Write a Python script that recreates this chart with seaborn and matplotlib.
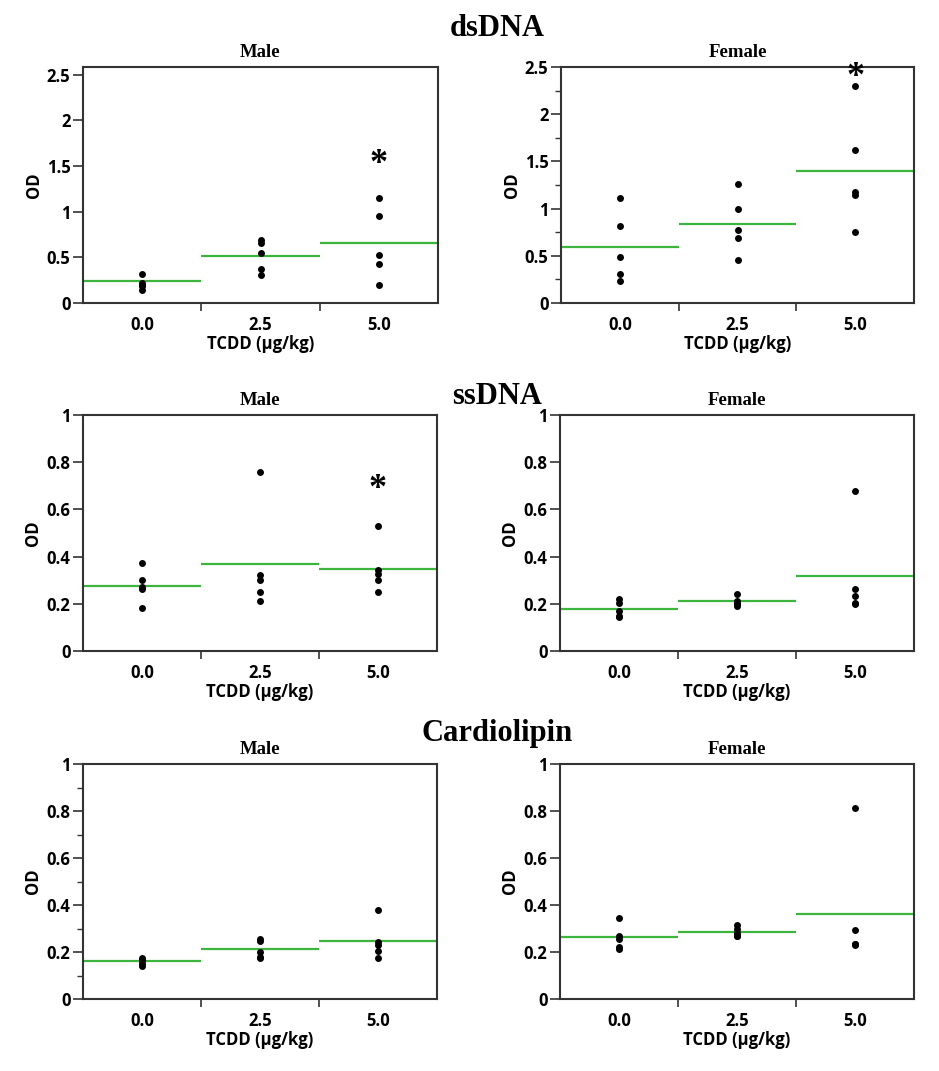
import numpy as np
import pandas as pd
import matplotlib
matplotlib.use("Agg")
import matplotlib.pyplot as plt
import seaborn as sns
from matplotlib.ticker import FuncFormatter, MultipleLocator
from matplotlib.transforms import offset_copy

sns.set_theme(style="white")
plt.rcParams['font.family'] = ['Open Sans', 'DejaVu Sans']
plt.rcParams['font.weight'] = 'bold'
plt.rcParams['axes.labelweight'] = 'bold'

doses = ["0.0", "2.5", "5.0"]

# OD values per panel, per dose group
ds_male = [[0.32, 0.22, 0.20, 0.19, 0.14],
           [0.686, 0.657, 0.547, 0.376, 0.307],
           [1.15, 0.949, 0.526, 0.423, 0.193]]
ds_female = [[1.11, 0.82, 0.489, 0.309, 0.238],
             [1.259, 0.996, 0.777, 0.688, 0.457],
             [2.30, 1.617, 1.177, 1.142, 0.748]]
ss_male = [[0.371, 0.301, 0.27, 0.261, 0.181],
           [0.76, 0.322, 0.299, 0.251, 0.212],
           [0.531, 0.343, 0.325, 0.299, 0.251]]
ss_female = [[0.22, 0.205, 0.17, 0.15, 0.145],
             [0.243, 0.213, 0.205, 0.198, 0.192],
             [0.68, 0.261, 0.233, 0.205, 0.20]]
cl_male = [[0.173, 0.165, 0.16, 0.15, 0.142],
           [0.255, 0.245, 0.201, 0.18, 0.174],
           [0.38, 0.244, 0.231, 0.203, 0.173]]
cl_female = [[0.346, 0.27, 0.256, 0.22, 0.212],
             [0.313, 0.297, 0.279, 0.27, 0.266],
             [0.813, 0.293, 0.234, 0.232, 0.23]]

# group means (green lines)
ds_male_mean = [0.237, 0.515, 0.653]
ds_female_mean = [0.592, 0.837, 1.40]
ss_male_mean = [0.277, 0.370, 0.349]
ss_female_mean = [0.179, 0.210, 0.316]
cl_male_mean = [0.160, 0.211, 0.246]
cl_female_mean = [0.262, 0.286, 0.363]

# significance markers: (dose index, y position)
ds_male_star = [(2, 1.58)]
ds_female_star = [(2, 2.45)]
ss_male_star = [(2, 0.71)]

row_titles = ["dsDNA", "ssDNA", "Cardiolipin"]
col_titles = ["Male", "Female"]

panels = [
    (ds_male, ds_male_mean, ds_male_star, 2.584, [0, 0.5, 1, 1.5, 2, 2.5], None),
    (ds_female, ds_female_mean, ds_female_star, 2.5, [0, 0.5, 1, 1.5, 2, 2.5], 0.25),
    (ss_male, ss_male_mean, ss_male_star, 1.0, [0, 0.2, 0.4, 0.6, 0.8, 1.0], None),
    (ss_female, ss_female_mean, [], 1.0, [0, 0.2, 0.4, 0.6, 0.8, 1.0], None),
    (cl_male, cl_male_mean, [], 1.0, [0, 0.2, 0.4, 0.6, 0.8, 1.0], 0.1),
    (cl_female, cl_female_mean, [], 1.0, [0, 0.2, 0.4, 0.6, 0.8, 1.0], None),
]

W, H = 939, 1071
fig = plt.figure(figsize=(W / 100, H / 100), dpi=100)

# axes boxes in pixels (left, top, right, bottom)
boxes = [
    (83, 67, 438, 303), (561, 67, 914, 303),
    (83, 415, 437, 651), (560, 415, 914, 651),
    (83, 764, 437, 999), (560, 764, 914, 999),
]
title_y = [29, 396, 733]

spine_col = "#333333"
green = "#3db53d"

for i, (data, means, stars, ymax, yticks, minor) in enumerate(panels):
    l, t, r, b = boxes[i]
    ax = fig.add_axes([l / W, 1 - b / H, (r - l) / W, (b - t) / H])
    df = pd.DataFrame({
        "dose": [doses[g] for g in range(3) for _ in data[g]],
        "OD": [v for g in range(3) for v in data[g]],
    })
    sns.stripplot(data=df, x="dose", y="OD", order=doses, jitter=False,
                  color="black", size=5, linewidth=0, ax=ax, zorder=3)
    for g, m in enumerate(means):
        ax.hlines(m, g - 0.5, g + 0.5, color=green, lw=1.6, zorder=2)
    star_tr = offset_copy(ax.transData, fig=fig, x=0, y=-6, units="dots")
    for (g, yv) in stars:
        ax.text(g, yv, "*", ha="center", va="center", fontsize=26,
                family="Liberation Serif", fontweight="bold", color="black",
                zorder=4, transform=star_tr)
    ax.set_xlim(-0.5, 2.5)
    ax.set_ylim(0, ymax)
    ax.set_yticks(yticks)
    ax.yaxis.set_major_formatter(FuncFormatter(lambda v, p: "%g" % v))
    if minor:
        ax.yaxis.set_minor_locator(MultipleLocator(minor))
        ax.tick_params(axis="y", which="minor", length=4, width=1, color=spine_col, left=True)
    ax.set_xticks([0, 1, 2])
    ax.set_xticklabels(doses, fontweight="bold")
    ax.set_xticks([0.5, 1.5], minor=True)
    ax.tick_params(axis="x", which="major", length=0, pad=9, labelsize=12, labelcolor="black")
    ax.tick_params(axis="x", which="minor", length=6, width=1.2, color=spine_col, bottom=True)
    ax.tick_params(axis="y", which="major", length=7, width=1.2, color=spine_col, left=True,
                   pad=2, labelsize=12, labelcolor="black")
    ax.set_xlabel("TCDD (µg/kg)", fontsize=12, fontweight="bold", color="black", labelpad=1)
    ax.set_ylabel("OD", fontsize=12, fontweight="bold", color="black", labelpad=3)
    for s in ax.spines.values():
        s.set_color(spine_col)
        s.set_linewidth(1.5)
    ax.set_title(col_titles[i % 2], fontsize=13.5, fontweight="bold",
                 family="Liberation Serif", color="black", pad=7)
    ax.set_facecolor("white")

for k, tt in enumerate(row_titles):
    fig.text(497 / W, 1 - title_y[k] / H, tt, ha="center", va="center",
             fontsize=22, fontweight="bold", family="Liberation Serif", color="black")

fig.savefig("out.png", dpi=100, facecolor="white")
